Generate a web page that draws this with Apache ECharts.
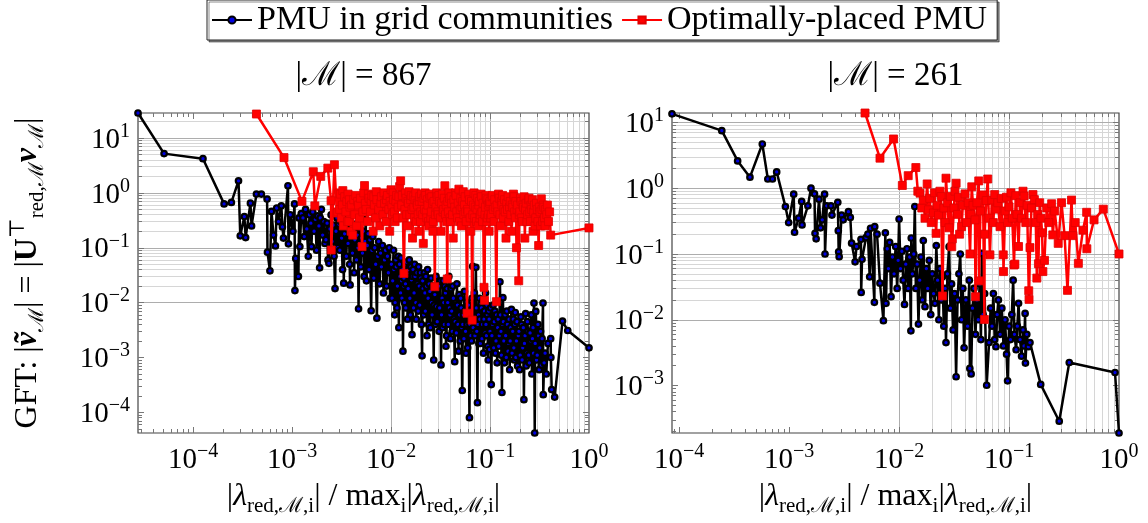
<!DOCTYPE html>
<html>
<head>
<meta charset="utf-8">
<script src="https://cdn.jsdelivr.net/npm/echarts@6/dist/echarts.min.js"></script>
<style>
  html, body { margin: 0; padding: 0; background: #fff; }
  #chart { width: 1148px; height: 523px; }
</style>
</head>
<body>
<div id="chart"></div>
<script>
// Series names (legend entries)
const seriesNames = ['PMU in grid communities', 'Optimally-placed PMU'];
// Panel titles (number of measured buses)
const panelTitles = ['|\u2133| = 867', '|\u2133| = 261'];

// Left panel, PMUs in grid communities: [normalised eigenvalue, |GFT coefficient|]
const leftCommunity = [
  [2.78e-5,28.6],[5.1e-5,5.2],[1.26e-4,4.2],[2.06e-4,0.63],[2.44e-4,0.67],[2.88e-4,1.66],[3.0e-4,0.165],[3.3e-4,0.37],
  [3.4e-4,0.153],[3.8e-4,0.65],[3.9e-4,0.25],[4.37e-4,0.95],[4.9e-4,0.95],[5.6e-4,0.77],[5.65e-4,0.083],[5.98e-4,0.038],
  [6.2e-4,0.46],[6.5e-4,0.17],[6.8e-4,0.108],[7.0e-4,0.53],[7.3e-4,0.3],[7.8e-4,0.58],[8.0e-4,0.24],[8.2e-4,0.15],
  [9.1e-4,1.35],[9.2e-4,0.118],[9.6e-4,0.4],[1.02e-3,0.2],[1.06e-3,0.63],[1.07e-3,0.0166],[1.09e-3,0.064],[1.16e-3,0.03],
  [1.18e-3,0.35],[1.2e-3,0.105],[0.00124,0.42],[0.00129,0.35],[0.00133,0.16],[0.00137,0.5],[0.00141,0.22],[0.00146,0.07],
  [0.0015,0.4],[0.00155,0.28],[0.00157,0.105],[0.00162,0.45],[0.00167,0.2],[0.00172,0.33],[0.00177,0.09],[0.00182,0.38],
  [0.00187,0.25],[0.0019,0.043],[0.00193,0.35],[0.00198,0.5],[0.00204,0.17],[0.0021,0.3],[0.00215,0.12],[0.0022,0.14],
  [0.00226,0.28],[0.00231,0.06],[0.00236,0.052],[0.00242,0.22],[0.00248,0.4],[0.00254,0.13],[0.0026,0.26],[0.00266,0.07],
  [0.00272,0.018],[0.00278,0.2],[0.00284,0.35],[0.0029,0.1],[0.00296,0.27],[0.00304,0.09],[0.0031,0.3],[0.00317,0.15],
  [0.00324,0.04],[0.0033,0.26],[0.00333,0.0226],[0.0034,0.18],[0.00347,0.58],[0.00354,0.07],[0.0036,0.22],[0.00368,0.12],
  [0.00375,0.28],[0.00382,0.05],[0.00386,0.021],[0.00393,0.16],[0.004,0.25],[0.00408,0.08],[0.00416,0.19],[0.00424,0.035],
  [0.00432,0.14],[0.0044,0.27],[0.00448,0.06],[0.00456,0.17],[0.00464,0.1],[0.0047,0.0077],[0.00478,0.12],[0.00487,0.22],
  [0.00496,0.045],[0.00505,0.15],[0.00515,0.08],[0.00525,0.2],[0.00535,0.03],[0.00545,0.13],[0.00556,0.33],[0.00565,0.025],
  [0.00576,0.11],[0.00588,0.18],[0.006,0.04],[0.00612,0.14],[0.0063,0.0071],[0.00642,0.09],[0.00655,0.16],[0.0067,0.028],
  [0.00685,0.1],[0.007,0.05],[0.0072,0.0052],[0.00735,0.07],[0.0075,0.13],[0.00767,0.022],[0.00785,0.08],[0.008,0.045],
  [0.0082,0.11],[0.0084,0.015],[0.0086,0.06],[0.0088,0.09],[0.009,0.02],[0.0092,0.07],[0.0094,0.035],[0.0096,0.1],
  [0.0098,0.012],
  [0.0101,0.05],[0.01025,0.012],[0.0104,0.025],[0.0106,0.09],[0.0107,0.04],[0.0109,0.006],[0.011,0.01],[0.0112,0.06],
  [0.0113,0.045],[0.0115,0.008],[0.0116,0.02],[0.0118,0.07],[0.012,0.0035],[0.0122,0.05],[0.0123,0.03],[0.0125,0.015],
  [0.0126,0.065],[0.0128,0.025],[0.0129,0.012],[0.0131,0.04],[0.0132,0.0013],[0.0134,0.02],[0.0135,0.028],[0.0137,0.01],
  [0.0138,0.05],[0.014,0.022],[0.0141,0.008],[0.0143,0.055],[0.0145,0.035],[0.0147,0.005],[0.0149,0.018],[0.0151,0.04],
  [0.0153,0.06],[0.0155,0.012],[0.0157,0.006],[0.0159,0.045],[0.0161,0.026],[0.0163,0.0026],[0.0165,0.03],[0.0167,0.04],
  [0.0169,0.008],[0.0171,0.015],[0.0173,0.05],[0.0175,0.03],[0.0178,0.01],[0.018,0.005],[0.0183,0.035],[0.0185,0.022],
  [0.0188,0.007],[0.019,0.045],[0.0193,0.02],[0.0195,0.009],[0.0198,0.035],[0.02,0.028],[0.0203,0.004],[0.0206,0.00107],
  [0.0209,0.025],[0.0211,0.018],[0.0214,0.006],[0.0217,0.035],[0.022,0.015],[0.0222,0.007],[0.0225,0.03],[0.0228,0.02],
  [0.0231,0.0025],[0.0234,0.04],[0.0237,0.012],[0.024,0.004],[0.0243,0.022],[0.0247,0.016],[0.025,0.0035],[0.0254,0.028],
  [0.0257,0.01],[0.026,0.006],[0.0264,0.02],[0.027,0.0009],[0.0273,0.009],[0.0277,0.014],[0.0281,0.004],[0.0285,0.03],
  [0.0289,0.0085],[0.0293,0.0045],[0.0297,0.018],
  [0.0302,0.02],[0.0306,0.003],[0.031,0.008],[0.0315,0.025],[0.032,0.00073],[0.0324,0.006],[0.0328,0.012],[0.0332,0.0035],
  [0.0337,0.025],[0.0341,0.01],[0.0346,0.004],[0.035,0.02],[0.0355,0.015],[0.0359,0.0016],[0.0364,0.0025],[0.0369,0.018],
  [0.0374,0.01],[0.0379,0.004],[0.0384,0.03],[0.0389,0.008],[0.0394,0.006],[0.0399,0.0022],[0.0404,0.018],[0.041,0.007],
  [0.0415,0.003],[0.042,0.02],[0.0426,0.012],[0.0433,0.005],[0.044,0.00084],[0.0445,0.0045],[0.0451,0.009],[0.0457,0.0028],
  [0.0463,0.022],[0.0469,0.009],[0.0475,0.004],[0.0481,0.0013],[0.0487,0.014],[0.0493,0.006],[0.05,0.002],[0.0506,0.012],
  [0.0512,0.008],[0.0518,0.0035],[0.0525,0.00025],[0.0531,0.004],[0.0538,0.006],[0.0545,0.0022],[0.0552,0.016],[0.0559,0.007],
  [0.0566,0.003],[0.0573,0.0012],[0.058,0.01],[0.0587,0.004],[0.0595,0.0015],[0.0605,0.009],[0.062,0.00008],[0.0627,0.004],
  [0.0635,0.007],[0.0642,0.0025],[0.065,0.002],[0.0658,0.012],[0.0668,0.046],[0.0676,0.0035],[0.0685,0.005],[0.0695,0.015],
  [0.0705,0.0025],[0.072,0.044],[0.0728,0.008],[0.0735,0.003],[0.0747,0.00015],[0.0755,0.004],[0.0765,0.006],[0.0772,0.0018],
  [0.078,0.012],[0.079,0.005],[0.08,0.0018],[0.081,0.0095],[0.082,0.008],[0.083,0.0022],[0.084,0.004],[0.085,0.011],
  [0.086,0.0012],[0.087,0.005],[0.088,0.007],[0.089,0.0028],[0.09,0.015],[0.091,0.004],[0.092,0.0025],[0.093,0.009],
  [0.094,0.006],[0.095,0.0016],[0.096,0.0009],[0.097,0.007],[0.098,0.005],[0.099,0.0014],
  [0.1,0.003],[0.1015,0.008],[0.103,0.00032],[0.1045,0.0025],[0.106,0.004],[0.1075,0.009],[0.109,0.0015],[0.1105,0.0045],
  [0.112,0.007],[0.1135,0.0012],[0.115,0.002],[0.1165,0.006],[0.118,0.0008],[0.1195,0.0035],[0.121,0.005],[0.1225,0.0016],
  [0.124,0.0025],[0.126,0.024],[0.1275,0.006],[0.129,0.003],[0.1305,0.0011],[0.132,0.00023],[0.1335,0.004],[0.135,0.0123],
  [0.1365,0.0045],[0.138,0.002],[0.14,0.0008],[0.142,0.006],[0.144,0.0025],[0.146,0.001],[0.148,0.007],[0.15,0.004],
  [0.152,0.0013],[0.154,0.0018],[0.156,0.005],[0.158,0.0006],[0.16,0.002],[0.162,0.0035],[0.1645,0.0075],[0.167,0.0012],
  [0.1695,0.003],[0.172,0.005],[0.174,0.0015],[0.176,0.0009],[0.178,0.004],[0.18,0.0066],[0.1825,0.001],[0.185,0.002],
  [0.1875,0.0045],[0.19,0.0007],[0.193,0.0025],[0.196,0.003],[0.199,0.0006],[0.202,0.0011],[0.205,0.0055],[0.208,0.004],
  [0.211,0.0009],[0.214,0.0015],[0.217,0.0035],[0.22,0.00017],[0.223,0.0018],[0.226,0.0025],[0.229,0.0063],[0.232,0.0007],
  [0.235,0.0012],[0.2385,0.0045],[0.242,0.003],[0.246,0.0011],[0.25,0.0008],[0.254,0.0028],[0.258,0.002],[0.2615,0.006],
  [0.265,0.0005],[0.2685,0.0022],[0.272,0.0035],[0.275,0.0012],[0.278,0.0098],[0.283,0.000042],[0.286,0.0018],[0.29,0.0069],
  [0.295,0.0009],[0.3,0.0011],[0.305,0.004],[0.31,0.0025],[0.314,0.0006],[0.318,0.0015],[0.324,0.003],[0.33,0.00073],
  [0.336,0.0022],[0.343,0.0098],[0.345,0.00021],[0.352,0.0008],[0.36,0.0012],[0.37,0.0005],[0.385,0.0018],[0.41,0.0022],
  [0.412,0.001],[0.42,0.00026],[0.45,0.00019],[0.54,0.0046],[0.61,0.0031],[1.0,0.0015]
];

// Left panel, optimally-placed PMUs
const leftOptimal = [
  [4.37e-4,27.4],[8.3e-4,4.4],[1.26e-3,0.7],[1.64e-3,2.43],[1.7e-3,0.58],[1.95e-3,2.0],[2.3e-3,2.83],[2.48e-3,0.72],
  [2.49e-3,0.091],[2.68e-3,3.26],[2.84e-3,0.43],
  [0.0029,0.45],[0.00298,1.0],[0.00303,0.5],[0.00308,0.95],[0.00315,0.35],[0.00322,0.6],[0.00326,1.1],[0.0033,0.25],
  [0.0034,0.85],[0.0035,0.45],[0.00358,0.7],[0.00363,0.3],[0.00368,0.95],[0.00375,0.3],[0.0038,0.75],[0.00385,0.55],
  [0.00395,0.2],[0.004,0.6],[0.0041,0.17],[0.0042,0.75],[0.0043,0.4],[0.0044,0.9],[0.0045,0.25],[0.0046,0.7],
  [0.0047,0.6],[0.0048,0.35],[0.0049,0.8],[0.0051,0.105],[0.0052,0.45],[0.0053,1.0],[0.0054,1.36],[0.0055,0.65],
  [0.0056,0.5],[0.0058,0.3],[0.0059,0.95],[0.006,0.8],[0.0062,0.45],[0.0063,0.7],[0.0064,0.9],[0.0066,0.2],
  [0.0067,0.85],[0.0068,0.6],[0.007,0.35],[0.0071,1.05],[0.0072,0.75],[0.0075,0.5],[0.0077,0.25],[0.0079,0.65],
  [0.008,0.85],[0.0083,0.4],[0.0085,1.0],[0.0086,0.65],[0.0089,0.3],[0.009,0.75],[0.0092,0.9],[0.0095,0.5],
  [0.0097,0.2],[0.0098,0.7],
  [0.01,1.14],[0.0102,0.6],[0.0103,0.4],[0.0105,1.0],[0.0106,0.75],[0.0108,0.45],[0.011,0.3],[0.0112,0.7],
  [0.0114,0.9],[0.0116,0.35],[0.0118,0.55],[0.012,0.85],[0.0122,1.3],[0.0125,1.66],[0.0128,0.6],[0.013,0.9],
  [0.0132,0.35],[0.0135,0.034],[0.0138,0.5],[0.014,1.0],[0.0142,0.8],[0.0144,0.4],[0.0146,0.25],[0.0148,0.7],
  [0.015,0.65],[0.0152,1.05],[0.0155,0.4],[0.0158,0.75],[0.016,0.9],[0.0163,0.5],[0.0165,0.15],[0.0168,0.85],
  [0.017,0.55],[0.0173,0.35],[0.0175,0.75],[0.0178,1.0],[0.018,0.3],[0.0183,0.65],[0.0185,0.6],[0.0188,0.4],
  [0.019,0.2],[0.0193,0.7],[0.0195,0.85],[0.0198,0.3],[0.02,0.45],[0.0203,0.95],[0.0206,0.7],[0.0209,0.4],
  [0.0212,0.12],[0.0215,0.8],[0.0218,0.5],[0.0221,1.0],[0.0224,0.9],[0.0227,0.45],[0.023,0.35],[0.0233,0.75],
  [0.0236,0.6],[0.0239,0.3],[0.0242,0.25],[0.0245,0.95],[0.0248,0.8],[0.0252,0.35],[0.0255,0.45],[0.0258,0.85],
  [0.0262,0.65],[0.0265,0.2],[0.0268,0.3],[0.0272,0.7],[0.0277,0.0195],[0.0281,0.4],[0.0285,0.55],[0.0289,1.0],
  [0.0293,0.85],[0.0297,0.45],
  [0.03,0.4],[0.0305,0.9],[0.031,0.7],[0.0315,0.35],[0.032,0.2],[0.0325,0.65],[0.033,0.95],[0.0335,0.45],
  [0.034,0.5],[0.0345,0.8],[0.035,1.35],[0.0355,0.4],[0.036,0.6],[0.0365,0.3],[0.037,0.027],[0.0375,0.7],
  [0.038,0.45],[0.0385,1.0],[0.039,0.8],[0.0395,0.35],[0.04,0.3],[0.0405,0.85],[0.041,0.65],[0.0418,0.4],
  [0.0425,0.15],[0.0432,0.75],[0.044,0.55],[0.0447,1.0],[0.0455,0.9],[0.0462,0.45],[0.047,0.35],[0.0477,0.65],
  [0.0485,1.17],[0.0492,0.3],[0.05,0.5],[0.0507,0.8],[0.0515,0.25],[0.0522,0.55],[0.053,0.7],[0.0537,1.05],
  [0.0545,0.4],[0.0552,0.6],[0.056,0.85],[0.0568,0.45],[0.0575,0.3],[0.0586,0.0064],[0.0593,0.5],[0.06,0.45],
  [0.061,0.95],[0.062,0.75],[0.063,0.35],[0.064,0.2],[0.065,0.7],[0.066,0.0048],[0.067,0.4],[0.068,0.6],
  [0.069,1.0],[0.07,0.35],[0.071,0.55],[0.072,0.9],[0.073,0.3],[0.074,0.5],[0.075,0.8],[0.076,0.25],
  [0.077,0.6],[0.078,0.7],[0.079,0.35],[0.08,0.4],[0.081,0.95],[0.082,0.85],[0.083,0.45],[0.084,0.3],
  [0.085,0.65],[0.087,0.019],[0.088,0.011],[0.089,0.4],[0.09,0.55],[0.091,0.9],[0.092,0.8],[0.093,0.3],
  [0.094,0.35],[0.095,0.75],[0.096,0.6],[0.097,0.4],[0.098,0.2],[0.099,0.65],
  [0.1,0.7],[0.1015,0.35],[0.103,0.4],[0.1045,0.85],[0.106,0.9],[0.108,0.5],[0.11,0.3],[0.1115,0.75],
  [0.113,0.55],[0.116,0.0104],[0.118,0.6],[0.12,0.45],[0.122,0.95],[0.124,0.8],[0.126,0.4],[0.128,0.25],
  [0.13,0.7],[0.132,0.6],[0.134,0.9],[0.136,0.35],[0.138,0.5],[0.14,0.75],[0.1425,0.45],[0.145,0.15],
  [0.1475,0.65],[0.15,0.5],[0.1525,0.85],[0.155,0.3],[0.1575,0.55],[0.16,0.7],[0.1625,0.4],[0.165,0.2],
  [0.1675,0.6],[0.17,0.55],[0.1725,0.95],[0.175,0.85],[0.1775,0.45],[0.18,0.35],[0.1825,0.7],[0.185,0.1],
  [0.1875,0.5],[0.19,0.6],[0.195,0.025],[0.1975,0.4],[0.2,0.45],[0.203,0.8],[0.206,0.7],[0.209,0.35],
  [0.212,0.3],[0.215,0.6],[0.218,0.55],[0.221,0.85],[0.225,0.15],[0.228,0.5],[0.232,0.65],[0.236,0.3],
  [0.24,0.4],[0.244,0.75],[0.248,0.8],[0.252,0.45],[0.256,0.3],[0.26,0.6],[0.264,0.5],[0.268,0.75],
  [0.272,0.2],[0.276,0.45],[0.28,0.6],[0.285,0.25],[0.29,0.35],[0.295,0.65],[0.3,0.5],[0.305,0.3],
  [0.31,0.11],[0.315,0.55],[0.32,0.45],[0.325,0.25],[0.33,0.78],[0.335,0.5],[0.34,0.3],[0.345,0.6],
  [0.35,0.55],[0.355,0.35],[0.36,0.25],[0.365,0.5],[0.375,0.4],[0.38,0.6],[0.39,0.3],[0.4,0.45],
  [0.41,0.17],[1.0,0.23]
];

// Right panel, PMUs in grid communities
const rightCommunity = [
  [8.6e-5,13.5],[2.44e-4,7.5],[3.4e-4,2.6],[4.4e-4,1.47],[5.7e-4,4.7],[6.4e-4,1.38],[7.05e-4,1.38],[7.7e-4,1.77],
  [9.25e-4,0.525],[9.9e-4,0.3],[1.1e-3,0.81],[1.12e-3,0.214],[1.22e-3,0.35],[1.3e-3,0.63],[1.31e-3,0.276],[1.48e-3,0.54],
  [1.58e-3,1.0],[1.7e-3,0.82],[1.72e-3,0.206],[1.76e-3,0.17],[1.87e-3,0.68],[1.93e-3,0.25],[2.0e-3,0.33],[2.1e-3,0.81],
  [2.12e-3,0.1],[2.2e-3,0.54],[2.4e-3,0.54],[2.45e-3,0.39],[2.77e-3,0.61],[2.8e-3,0.226],[2.82e-3,0.108],[2.85e-3,0.091],
  [3.0e-3,0.39],[3.1e-3,0.33],[3.46e-3,0.44],[3.6e-3,0.36],[3.7e-3,0.146],[3.98e-3,0.076],[4.1e-3,0.13],[4.5e-3,0.167],
  [4.52e-3,0.026],[4.6e-3,0.083],[5.0e-3,0.177],[5.2e-3,0.2],[5.4e-3,0.045],[5.5e-3,0.246],[5.96e-3,0.0184],[6.0e-3,0.26],
  [6.3e-3,0.2],[6.7e-3,0.036],[7.2e-3,0.0097],[7.5e-3,0.21],[7.6e-3,0.0178],[0.0078,0.12],[0.008,0.06],[0.0082,0.15],
  [0.00845,0.0224],[0.0087,0.09],[0.009,0.05],[0.0093,0.13],[0.0096,0.03],[0.0098,0.08],[0.01,0.34],[0.0103,0.06],
  [0.0106,0.11],[0.0109,0.04],[0.0112,0.0171],[0.0115,0.07],[0.0118,0.12],[0.0121,0.03],[0.0125,0.09],[0.0128,0.0068],
  [0.0129,0.175],[0.0132,0.05],[0.0136,0.1],[0.0139,0.525],[0.0142,0.03],[0.0146,0.07],[0.015,0.0086],[0.0154,0.04],
  [0.0158,0.09],[0.0163,0.02],[0.0166,0.16],[0.0172,0.0158],[0.0177,0.06],[0.0182,0.03],[0.0188,0.08],[0.0194,0.012],
  [0.02,0.05],[0.0206,0.025],[0.0212,0.0178],[0.0218,0.134],[0.0224,0.04],[0.023,0.01],[0.0236,0.06],[0.0242,0.02],
  [0.0248,0.045],[0.0255,0.008],[0.0262,0.03],[0.0267,0.0045],[0.0275,0.05],[0.0285,0.129],[0.0293,0.015],[0.03,0.035],
  [0.031,0.007],[0.032,0.025],[0.033,0.00136],[0.034,0.02],[0.035,0.05],[0.036,0.1],[0.037,0.01],[0.038,0.03],
  [0.039,0.00375],[0.0405,0.02],[0.042,0.008],[0.0435,0.04],[0.044,0.00182],[0.0452,0.0015],[0.0465,0.015],[0.048,0.03],
  [0.0495,0.006],[0.051,0.02],[0.0525,0.01],[0.054,0.035],[0.0555,0.005],[0.0565,0.102],[0.058,0.012],[0.06,0.025],
  [0.0626,0.00101],[0.0658,0.0045],[0.068,0.015],[0.07,0.008],[0.072,0.025],[0.074,0.005],[0.076,0.0039],[0.078,0.012],
  [0.08,0.02],[0.083,0.006],[0.086,0.015],[0.089,0.004],[0.092,0.01],[0.095,0.003],[0.097,0.00118],[0.1,0.008],
  [0.103,0.005],[0.106,0.012],[0.109,0.04],[0.112,0.006],[0.116,0.0035],[0.119,0.008],[0.122,0.0178],[0.126,0.005],
  [0.13,0.0028],[0.134,0.007],[0.137,0.004],[0.14,0.0125],[0.141,0.0022],[0.145,0.006],[0.15,0.0039],[0.155,0.0045],
  [0.194,0.00104],[0.286,0.000287],[0.353,0.00224],[0.92,0.00158],[1.0,0.00019]
];

// Right panel, optimally-placed PMUs
const rightOptimal = [
  [0.0049,13.9],[0.0067,2.86],[0.0089,5.6],[0.0107,1.1],[0.0121,1.55],[0.0142,2.06],[0.0148,0.9],[0.0155,0.84],
  [0.0161,0.5],[0.0166,0.66],[0.0172,0.35],[0.018,1.16],[0.0185,0.47],[0.019,0.7],[0.0196,0.3],[0.0205,0.42],
  [0.021,0.85],[0.0217,0.206],[0.0222,0.55],[0.0228,0.39],[0.0235,0.9],[0.0241,0.745],[0.0248,0.023],[0.0255,0.5],
  [0.0262,0.3],[0.0267,1.42],[0.0275,0.6],[0.0284,0.25],[0.0293,0.75],[0.0301,0.129],[0.0305,0.17],[0.0315,0.5],
  [0.0322,0.9],[0.033,1.19],[0.034,0.4],[0.0347,0.73],[0.0355,0.2],[0.037,0.26],[0.038,0.55],[0.0398,0.82],
  [0.041,0.3],[0.0425,0.6],[0.0442,0.1],[0.045,0.4],[0.0458,1.05],[0.047,0.55],[0.049,0.33],[0.0495,0.0224],
  [0.051,0.6],[0.053,1.29],[0.0533,0.039],[0.055,0.45],[0.058,0.79],[0.0597,0.0101],[0.06,0.2],[0.062,0.65],
  [0.064,1.38],[0.0655,0.35],[0.067,0.097],[0.0697,0.66],[0.072,0.3],[0.074,0.8],[0.076,0.48],[0.079,0.6],
  [0.0828,0.26],[0.085,0.7],[0.0886,0.097],[0.089,0.054],[0.092,0.45],[0.0947,0.73],[0.097,0.3],[0.1,0.52],
  [0.104,0.85],[0.107,0.35],[0.111,0.068],[0.113,0.07],[0.115,0.77],[0.118,0.4],[0.122,0.13],[0.126,0.6],
  [0.13,0.35],[0.134,0.9],[0.137,0.76],[0.142,0.3],[0.146,0.55],[0.151,0.0276],[0.152,0.0204],[0.155,0.125],
  [0.16,0.5],[0.165,0.8],[0.17,0.67],[0.175,0.3],[0.179,0.043],[0.182,0.4],[0.185,0.071],[0.19,0.6],
  [0.195,0.35],[0.2,0.21],[0.203,0.054],[0.21,0.08],[0.22,0.5],[0.23,0.3],[0.244,0.58],[0.25,0.195],
  [0.26,0.45],[0.28,0.145],[0.3,0.6],[0.32,0.19],[0.34,0.028],[0.37,0.66],[0.38,0.19],[0.4,0.3],
  [0.427,0.072],[0.47,0.23],[0.508,0.43],[0.51,0.12],[0.593,0.33],[0.72,0.48],[1.0,0.1]
];

const FONT = "'Liberation Serif', 'DejaVu Serif', serif";

// Axis limits follow the data extent of each panel
function extentOf(sets) {
  const xs = [], ys = [];
  sets.forEach(s => s.forEach(p => { xs.push(p[0]); ys.push(p[1]); }));
  return { x: [Math.min(...xs), Math.max(...xs)], y: [Math.min(...ys), Math.max(...ys)] };
}
const extents = [extentOf([leftCommunity, leftOptimal]), extentOf([rightCommunity, rightOptimal])];

// Plot rectangles in pixels
const grids = [
  { left: 138, top: 113, width: 451, height: 320 },
  { left: 672, top: 113, width: 447, height: 320 }
];

// 1..9 x 10^k positions strictly inside an extent
function logSteps(min, max) {
  const out = [];
  for (let e = Math.floor(Math.log10(min)); e <= Math.ceil(Math.log10(max)); e++) {
    for (let m = 1; m <= 9; m++) {
      const v = m * Math.pow(10, e);
      if (v > min * 1.0005 && v < max / 1.0005) out.push({ v, major: m === 1 });
    }
  }
  return out;
}

// Major/minor grid lines and inward ticks on all four edges (drawn beneath the data)
function gridSeries(i) {
  const ext = extents[i], g = grids[i];
  const major = { color: '#adadad', width: 1, type: 'solid' };
  const minor = { color: '#d6d6d6', width: 1, type: 'solid' };
  const tick = { color: '#777', width: 1, type: 'solid' };
  const xs = logSteps(ext.x[0], ext.x[1]);
  const ys = logSteps(ext.y[0], ext.y[1]);
  const kx = len => Math.pow(ext.x[1] / ext.x[0], len / g.width);
  const ky = len => Math.pow(ext.y[1] / ext.y[0], len / g.height);
  const data = [];
  xs.forEach(s => data.push({ xAxis: s.v, lineStyle: s.major ? major : minor }));
  ys.forEach(s => data.push({ yAxis: s.v, lineStyle: s.major ? major : minor }));
  xs.forEach(s => {
    const k = ky(s.major ? 6 : 4);
    data.push([{ coord: [s.v, ext.y[0]], lineStyle: tick }, { coord: [s.v, ext.y[0] * k] }]);
    data.push([{ coord: [s.v, ext.y[1]], lineStyle: tick }, { coord: [s.v, ext.y[1] / k] }]);
  });
  ys.forEach(s => {
    const k = kx(s.major ? 6 : 4);
    data.push([{ coord: [ext.x[0], s.v], lineStyle: tick }, { coord: [ext.x[0] * k, s.v] }]);
    data.push([{ coord: [ext.x[1], s.v], lineStyle: tick }, { coord: [ext.x[1] / k, s.v] }]);
  });
  return {
    type: 'line', name: 'grid' + i, xAxisIndex: i, yAxisIndex: i, data: [], z: 1, silent: true,
    markLine: { z: 1, silent: true, symbol: ['none', 'none'], label: { show: false }, animation: false,
                emphasis: { disabled: true }, data }
  };
}

// Power-of-ten tick labels with superscript exponent
const tickRich = {
  b: { fontFamily: FONT, fontSize: 29, lineHeight: 33, verticalAlign: 'bottom', color: '#000' },
  sup: { fontFamily: FONT, fontSize: 20, lineHeight: 20, verticalAlign: 'top', color: '#000' }
};
function powerLabel(v) {
  const l = Math.log10(v), e = Math.round(l);
  if (Math.abs(l - e) > 1e-6) return '';
  return '{b|10}{sup|' + String(e).replace('-', '\u2212') + '}';
}

const nameRich = {
  t: { fontFamily: FONT, fontSize: 32, lineHeight: 40, color: '#000' },
  it: { fontFamily: FONT, fontSize: 32, lineHeight: 40, fontStyle: 'italic', color: '#000' },
  bi: { fontFamily: FONT, fontSize: 32, lineHeight: 40, fontStyle: 'italic', fontWeight: 'bold', color: '#000' },
  bu: { fontFamily: FONT, fontSize: 32, lineHeight: 40, fontWeight: 'bold', color: '#000' },
  s: { fontFamily: FONT, fontSize: 21, lineHeight: 21, verticalAlign: 'bottom', color: '#000' },
  sp: { fontFamily: FONT, fontSize: 21, lineHeight: 21, verticalAlign: 'top', color: '#000' }
};
const xName = '{t||}{it|\u03bb}{s|red,\u2133,i}{t|| / max}{s|i}{t||}{it|\u03bb}{s|red,\u2133,i}{t||}';
const yName = '{t|GFT: |}{bi|\u1e7d}{s|\u2133}{t|| = |}{bu|U}{sp|\u22a4}{s|red,\u2133}{bi|v}{s|\u2133}{t||}';

function xAxisFor(i) {
  return {
    type: 'log', logBase: 10, gridIndex: i, min: extents[i].x[0], max: extents[i].x[1],
    axisLine: { show: false }, axisTick: { show: false }, splitLine: { show: false },
    axisLabel: { formatter: powerLabel, margin: 9, rich: tickRich },
    name: xName, nameLocation: 'middle', nameGap: 44, nameTextStyle: { rich: nameRich }
  };
}
function yAxisFor(i) {
  const ax = {
    type: 'log', logBase: 10, gridIndex: i, min: extents[i].y[0], max: extents[i].y[1],
    axisLine: { show: false }, axisTick: { show: false }, splitLine: { show: false },
    axisLabel: { formatter: powerLabel, margin: 8, rich: tickRich }
  };
  if (i === 0) {
    ax.name = yName; ax.nameLocation = 'middle'; ax.nameGap = 90; ax.nameRotate = 90;
    ax.nameTextStyle = { rich: nameRich };
  }
  return ax;
}

function communitySeries(i, data) {
  return {
    name: seriesNames[0], type: 'line', xAxisIndex: i, yAxisIndex: i, data, z: 3,
    symbol: 'circle', symbolSize: 5.5, showSymbol: true,
    lineStyle: { color: '#000', width: 2.5 },
    itemStyle: { color: '#0000e0', borderColor: '#000', borderWidth: 2.2 },
    emphasis: { disabled: true }
  };
}
function optimalSeries(i, data) {
  return {
    name: seriesNames[1], type: 'line', xAxisIndex: i, yAxisIndex: i, data, z: 4,
    symbol: 'rect', symbolSize: 8, showSymbol: true,
    lineStyle: { color: '#ff0000', width: 2.5 },
    itemStyle: { color: '#ff0000', borderColor: '#e00000', borderWidth: 0.8 },
    emphasis: { disabled: true }
  };
}

const chart = echarts.init(document.getElementById('chart'), null, { renderer: 'canvas' });
chart.setOption({
  animation: false,
  backgroundColor: '#fff',
  grid: grids.map(g => Object.assign({ show: true, borderColor: '#444', borderWidth: 1.2, backgroundColor: 'transparent' }, g)),
  xAxis: [xAxisFor(0), xAxisFor(1)],
  yAxis: [yAxisFor(0), yAxisFor(1)],
  legend: {
    data: seriesNames, left: 207, top: 0, selectedMode: false,
    itemWidth: 40, itemHeight: 9, itemGap: 8, padding: [3, 10, 3, 4],
    borderColor: '#222', borderWidth: 1, backgroundColor: '#fff',
    shadowColor: 'rgba(0,0,0,0.45)', shadowOffsetX: 2, shadowOffsetY: 2, shadowBlur: 0,
    textStyle: { fontFamily: FONT, fontSize: 34, color: '#000' }
  },
  graphic: panelTitles.map((t, i) => ({
    type: 'text', x: grids[i].left + grids[i].width / 2, y: 76, silent: true,
    style: { text: t, fontFamily: FONT, fontSize: 33, fill: '#000', textAlign: 'center', textVerticalAlign: 'middle' }
  })),
  series: [
    gridSeries(0), gridSeries(1),
    communitySeries(0, leftCommunity), optimalSeries(0, leftOptimal),
    communitySeries(1, rightCommunity), optimalSeries(1, rightOptimal)
  ]
});
</script>
</body>
</html>
